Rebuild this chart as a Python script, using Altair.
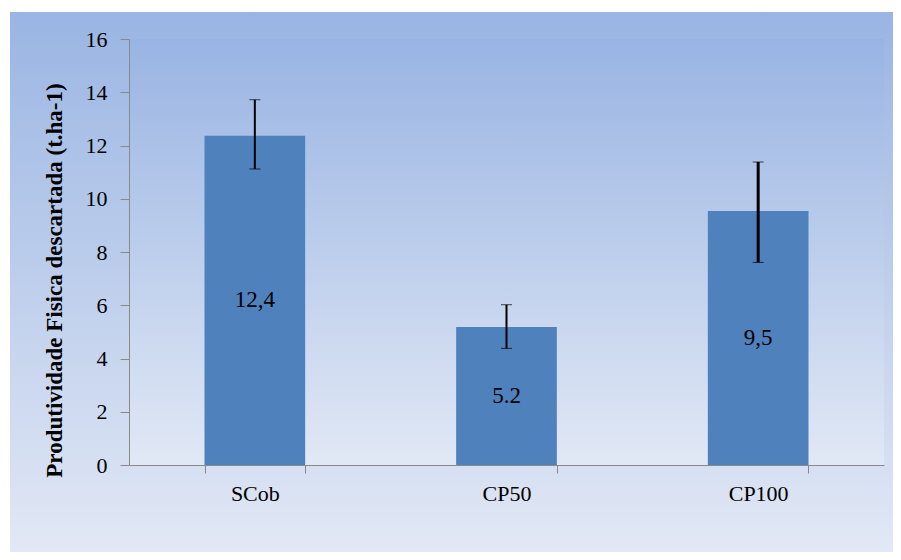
import altair as alt
import pandas as pd

categories = ["SCob", "CP50", "CP100"]
values = [12.37, 5.18, 9.54]
err_low = [11.12, 4.38, 7.61]
err_high = [13.72, 6.02, 11.38]
bar_labels = ["12,4", "5.2", "9,5"]
y_ticks = [0, 2, 4, 6, 8, 10, 12, 14, 16]
y_title = "Produtividade Fisica descartada  (t.ha-1)"

df = pd.DataFrame({
    "cat": categories,
    "value": values,
    "lo": err_low,
    "hi": err_high,
    "label": bar_labels,
})

W, H = 755, 426
PAD = {"left": 121, "top": 31, "right": 9, "bottom": 87}
FONT = "Liberation Serif"
AXC = "#898989"

bg = pd.DataFrame({"k": [0]})

outer = alt.Chart(bg).mark_rect(
    color=alt.Gradient(
        gradient="linear", x1=0, x2=0, y1=0, y2=1,
        stops=[alt.GradientStop(color="#9AB5E3", offset=0),
               alt.GradientStop(color="#E2E8F5", offset=1)],
    )
).encode(
    x=alt.value(-119), x2=alt.value(W + 9),
    y=alt.value(-27), y2=alt.value(H + 87),
)

inner = alt.Chart(bg).mark_rect(
    color=alt.Gradient(
        gradient="linear", x1=0, x2=0, y1=0, y2=1,
        stops=[alt.GradientStop(color="#99B4E3", offset=0),
               alt.GradientStop(color="#E1E8F5", offset=1)],
    )
).encode(
    x=alt.value(0), x2=alt.value(W),
    y=alt.value(0), y2=alt.value(H),
)

xenc = alt.X(
    "cat:N", sort=categories,
    scale=alt.Scale(paddingInner=0.6, paddingOuter=0.3),
    axis=alt.Axis(
        title=None, labelAngle=0, tickBand="extent", tickSize=8,
        domainColor=AXC, tickColor=AXC, labelColor="black",
        labelFont=FONT, labelFontSize=22, labelPadding=10, zindex=1,
    ),
)

bars = alt.Chart(df).mark_bar(color="#4F81BD").encode(
    x=xenc,
    y=alt.Y(
        "value:Q",
        scale=alt.Scale(domain=[0, 16]),
        axis=alt.Axis(
            values=y_ticks, grid=False, tickSize=9, labelPadding=13,
            domainColor=AXC, tickColor=AXC, labelColor="black",
            labelFont=FONT, labelFontSize=22, zindex=1,
            title=y_title, titleFont=FONT, titleFontSize=23,
            titleFontWeight="bold", titleColor="black",
            titleAngle=270, titleAlign="center", titleBaseline="middle",
            titleX=-75, titleY=241,
        ),
    ),
)

sw = alt.condition(alt.datum.cat == "CP100", alt.value(3), alt.value(2))

rules = alt.Chart(df).mark_rule(color="black").encode(
    x=alt.X("cat:N", sort=categories), y="lo:Q", y2="hi:Q", strokeWidth=sw
)
cap_hi = alt.Chart(df).mark_tick(color="black", size=11).encode(
    x=alt.X("cat:N", sort=categories), y="hi:Q", strokeWidth=sw
)
cap_lo = alt.Chart(df).mark_tick(color="black", size=11).encode(
    x=alt.X("cat:N", sort=categories), y="lo:Q", strokeWidth=sw
)

texts = alt.Chart(df).transform_calculate(half="datum.value / 2").mark_text(
    font=FONT, fontSize=23, color="black", baseline="middle", align="center"
).encode(
    x=alt.X("cat:N", sort=categories), y="half:Q", text="label:N"
)

chart = alt.layer(outer, inner, bars, rules, cap_hi, cap_lo, texts).properties(
    width=W, height=H, autosize="none", padding=PAD, background="white"
).configure_view(stroke=None)

chart.save("out.html", embed_options={"renderer": "svg", "actions": False})
